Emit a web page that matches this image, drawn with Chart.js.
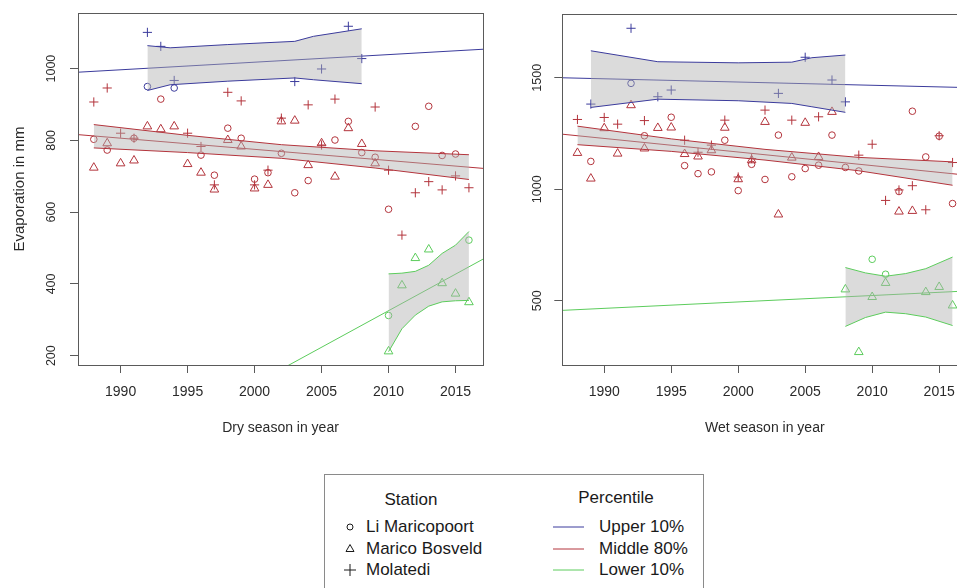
<!DOCTYPE html>
<html>
<head>
<meta charset="utf-8">
<script src="https://cdn.jsdelivr.net/npm/chart.js@4.4.1/dist/chart.umd.min.js"></script>
<style>
  html, body { margin: 0; padding: 0; width: 957px; height: 588px; overflow: hidden; background: #fff; }
  body { position: relative; font-family: "Liberation Sans", Arial, sans-serif; color: #1a1a1a; }
  #dry { position: absolute; left: 0; top: 0; }
  #wet { position: absolute; left: 490px; top: 0; }
  #legend { position: absolute; left: 324px; top: 474px; width: 378px; height: 140px; border: 1px solid #8a8a8a; }
  .lg { position: absolute; font-size: 17px; line-height: 20px; white-space: nowrap; }
  .sym { position: absolute; }
</style>
</head>
<body>
<canvas id="dry" width="500" height="460"></canvas>
<canvas id="wet" width="490" height="460"></canvas>
<div id="legend"></div>
<script>
// axis ticks
const yearTicks = [1990, 1995, 2000, 2005, 2010, 2015];
const dryTicks = [200, 400, 600, 800, 1000];
const wetTicks = [500, 1000, 1500];

// ---- dry season ----
// Li Maricopoort (circles)
const dryLiUpperYears = [1992, 1994];
const dryLiUpper = [950, 946];
const dryLiMidYears = [1988, 1989, 1991, 1993, 1996, 1997, 1998, 1999, 2000, 2001, 2002, 2003, 2004, 2006, 2007, 2008, 2009, 2010, 2012, 2013, 2014, 2015];
const dryLiMid = [803, 773, 806, 915, 759, 703, 834, 806, 692, 710, 764, 654, 688, 801, 853, 766, 753, 608, 839, 895, 758, 762];
const dryLiLowYears = [2010, 2016];
const dryLiLow = [312, 522];
// Marico Bosveld (triangles)
const dryMbMidYears = [1988, 1989, 1990, 1991, 1992, 1993, 1994, 1995, 1996, 1997, 1998, 1999, 2000, 2001, 2002, 2003, 2004, 2005, 2006, 2007, 2008, 2009];
const dryMbMid = [724, 792, 736, 744, 839, 831, 839, 734, 710, 663, 801, 783, 666, 676, 853, 855, 731, 792, 699, 834, 790, 736];
const dryMbLowYears = [2010, 2011, 2012, 2013, 2014, 2015, 2016];
const dryMbLow = [212, 396, 472, 496, 402, 373, 349];
// Molatedi (crosses)
const dryMoUpperYears = [1992, 1993, 1994, 2003, 2005, 2007, 2008];
const dryMoUpper = [1101, 1062, 967, 964, 999, 1118, 1028];
const dryMoMidYears = [1988, 1989, 1990, 1991, 1995, 1996, 1997, 1998, 1999, 2000, 2001, 2002, 2004, 2005, 2006, 2009, 2010, 2011, 2012, 2013, 2014, 2015, 2016];
const dryMoMid = [907, 946, 820, 806, 820, 783, 676, 934, 910, 676, 717, 862, 899, 787, 915, 893, 717, 536, 654, 685, 662, 701, 668];
// fitted lines (values at the plot borders) and confidence bands
const dryFitYears = [1986.82, 2017.05];
const dryFitUpper = [990, 1054];
const dryFitMid = [816, 722];
const dryFitLow = [-147, 469];
const dryBandUpperYears = [1992, 1993.7, 1998, 2003, 2004.4, 2008];
const dryBandUpperHi = [1064, 1058, 1067, 1076, 1090, 1111];
const dryBandUpperLo = [939, 955, 965, 974, 969, 958];
const dryBandMidYears = [1988, 1995, 2002, 2009, 2016];
const dryBandMidHi = [844, 814, 788, 771, 760];
const dryBandMidLo = [779, 766, 750, 723, 691];
const dryBandLowYears = [2010, 2011, 2012, 2013, 2014, 2015, 2016];
const dryBandLowHi = [428, 430, 435, 452, 485, 508, 546];
const dryBandLowLo = [211, 275, 313, 338, 350, 353, 354];

// ---- wet season ----
const wetLiUpperYears = [1992];
const wetLiUpper = [1475];
const wetLiMidYears = [1989, 1993, 1995, 1996, 1997, 1998, 1999, 2000, 2001, 2002, 2003, 2004, 2005, 2006, 2007, 2008, 2009, 2012, 2013, 2014, 2015, 2016];
const wetLiMid = [1125, 1240, 1323, 1106, 1070, 1078, 1220, 994, 1112, 1044, 1243, 1056, 1093, 1108, 1243, 1098, 1082, 990, 1350, 1145, 1238, 936];
const wetLiLowYears = [2010, 2011];
const wetLiLow = [686, 619];
const wetMbMidYears = [1988, 1989, 1990, 1991, 1992, 1993, 1994, 1995, 1996, 1997, 1998, 1999, 2000, 2001, 2002, 2003, 2004, 2005, 2006, 2007, 2012, 2013];
const wetMbMid = [1163, 1048, 1274, 1160, 1377, 1183, 1275, 1277, 1158, 1147, 1175, 1276, 1045, 1130, 1302, 887, 1142, 1298, 1145, 1347, 900, 903];
const wetMbLowYears = [2008, 2009, 2010, 2011, 2014, 2015, 2016];
const wetMbLow = [551, 270, 517, 580, 539, 562, 479];
const wetMoUpperYears = [1989, 1992, 1994, 1995, 2003, 2005, 2007, 2008];
const wetMoUpper = [1382, 1722, 1415, 1445, 1430, 1592, 1490, 1392];
const wetMoMidYears = [1988, 1990, 1991, 1993, 1996, 1997, 1998, 1999, 2000, 2001, 2002, 2004, 2006, 2009, 2010, 2011, 2012, 2013, 2014, 2015, 2016];
const wetMoMid = [1313, 1322, 1292, 1308, 1220, 1166, 1198, 1310, 1055, 1138, 1355, 1310, 1325, 1153, 1202, 950, 997, 1016, 908, 1240, 1120];
const wetFitYears = [1986.87, 2017.1];
const wetFitUpper = [1500, 1456];
const wetFitMid = [1247, 1063];
const wetFitLow = [457, 544];
const wetBandUpperYears = [1989, 1994, 2000, 2004, 2005.5, 2008];
const wetBandUpperHi = [1621, 1572, 1567, 1570, 1590, 1602];
const wetBandUpperLo = [1367, 1404, 1397, 1385, 1370, 1345];
const wetBandMidYears = [1988, 1995, 2002, 2009, 2016];
const wetBandMidHi = [1283, 1226, 1179, 1143, 1123];
const wetBandMidLo = [1200, 1170, 1131, 1083, 1018];
const wetBandLowYears = [2008, 2009.5, 2011, 2012.5, 2014, 2016];
const wetBandLowHi = [649, 625, 610, 622, 644, 696];
const wetBandLowLo = [385, 425, 449, 442, 427, 389];

// legend labels
const stationNames = ["Li Maricopoort", "Marico Bosveld", "Molatedi"];
const percentileNames = ["Upper 10%", "Middle 80%", "Lower 10%"];

// ---- styles ----
const blue = "#3b3b9c", red = "#b3343c", green = "#5ccc5c";
const bandFill = "rgba(175,175,175,0.45)";
const axisCol = "#5a5a5a", textCol = "#2a2a2a";
const fontFam = '"Liberation Sans", Arial, sans-serif';
const sizes = { circle: 3.3, triangle: 5, cross: 4.6 };

function pts(xs, ys) {
  return xs.map((x, i) => ({ x: x, y: ys[i] }));
}

function markers(xs, ys, style, color) {
  return {
    data: pts(xs, ys), showLine: false, pointStyle: style,
    pointRadius: sizes[style], pointBorderColor: color,
    pointBackgroundColor: "rgba(0,0,0,0)", pointBorderWidth: 1
  };
}

function line(xs, ys, color, fill) {
  return {
    data: pts(xs, ys), borderColor: color, borderWidth: 1, pointRadius: 0,
    tension: 0, fill: fill ? "-1" : false, backgroundColor: bandFill
  };
}

const boxPlugin = {
  id: "box",
  afterDraw(chart) {
    const a = chart.chartArea, ctx = chart.ctx;
    ctx.save();
    ctx.strokeStyle = axisCol;
    ctx.lineWidth = 1;
    ctx.strokeRect(Math.round(a.left) + 0.5, Math.round(a.top) + 0.5,
      Math.round(a.right - a.left), Math.round(a.bottom - a.top));
    ctx.restore();
  }
};

// plain numbers, no thousands separator
const plain = v => String(v);

function makePanel(id, cfg) {
  new Chart(document.getElementById(id), {
    type: "line",
    data: { datasets: cfg.datasets },
    plugins: [boxPlugin],
    options: {
      responsive: false,
      animation: false,
      events: [],
      layout: { padding: cfg.padding },
      plugins: { legend: { display: false }, tooltip: { enabled: false } },
      scales: {
        x: {
          type: "linear", min: cfg.xMin, max: cfg.xMax,
          afterBuildTicks: s => { s.ticks = yearTicks.map(v => ({ value: v })); },
          afterFit: s => { s.height = 71.4; },
          grid: { drawOnChartArea: false, drawTicks: true, tickLength: 8, color: axisCol },
          border: { display: false },
          ticks: { autoSkip: false, maxRotation: 0, minRotation: 0, padding: 10.6, callback: plain,
            color: textCol, font: { family: fontFam, size: 14 } },
          title: { display: true, text: cfg.xTitle, color: textCol, padding: 0,
            font: { family: fontFam, size: 14 } }
        },
        y: {
          type: "linear", min: cfg.yMin, max: cfg.yMax,
          afterBuildTicks: s => { s.ticks = cfg.yTicks.map(v => ({ value: v })); },
          afterFit: s => { s.width = cfg.yWidth; },
          grid: { drawOnChartArea: false, drawTicks: true, tickLength: 8, color: axisCol },
          border: { display: false },
          ticks: { minRotation: 90, maxRotation: 90, crossAlign: "center", padding: cfg.yPad,
            callback: plain, color: textCol, font: { family: fontFam, size: 12.5 } },
          title: { display: !!cfg.yTitle, text: cfg.yTitle, color: textCol,
            padding: { top: 10.5, bottom: 0 }, font: { family: fontFam, size: 15 } }
        }
      }
    }
  });
}

makePanel("dry", {
  xMin: 1986.82, xMax: 2017.05, yMin: 174, yMax: 1155, yTicks: dryTicks,
  yWidth: 78, yPad: 4.4, padding: { left: 0, top: 13, right: 17, bottom: 460 - 365 - 71.4 },
  xTitle: "Dry season in year", yTitle: "Evaporation in mm",
  datasets: [
    line(dryBandUpperYears, dryBandUpperLo, blue, false),
    line(dryBandUpperYears, dryBandUpperHi, blue, true),
    line(dryBandMidYears, dryBandMidLo, red, false),
    line(dryBandMidYears, dryBandMidHi, red, true),
    line(dryBandLowYears, dryBandLowLo, green, false),
    line(dryBandLowYears, dryBandLowHi, green, true),
    line(dryFitYears, dryFitUpper, blue, false),
    line(dryFitYears, dryFitMid, red, false),
    line(dryFitYears, dryFitLow, green, false),
    markers(dryLiUpperYears, dryLiUpper, "circle", blue),
    markers(dryLiMidYears, dryLiMid, "circle", red),
    markers(dryLiLowYears, dryLiLow, "circle", green),
    markers(dryMbMidYears, dryMbMid, "triangle", red),
    markers(dryMbLowYears, dryMbLow, "triangle", green),
    markers(dryMoUpperYears, dryMoUpper, "cross", blue),
    markers(dryMoMidYears, dryMoMid, "cross", red)
  ]
});

makePanel("wet", {
  xMin: 1986.87, xMax: 2017.1, yMin: 212, yMax: 1786, yTicks: wetTicks,
  yWidth: 72.3, yPad: 3.3, padding: { left: 0, top: 14, right: 12.7, bottom: 460 - 365 - 71.4 },
  xTitle: "Wet season in year", yTitle: "",
  datasets: [
    line(wetBandUpperYears, wetBandUpperLo, blue, false),
    line(wetBandUpperYears, wetBandUpperHi, blue, true),
    line(wetBandMidYears, wetBandMidLo, red, false),
    line(wetBandMidYears, wetBandMidHi, red, true),
    line(wetBandLowYears, wetBandLowLo, green, false),
    line(wetBandLowYears, wetBandLowHi, green, true),
    line(wetFitYears, wetFitUpper, blue, false),
    line(wetFitYears, wetFitMid, red, false),
    line(wetFitYears, wetFitLow, green, false),
    markers(wetLiUpperYears, wetLiUpper, "circle", blue),
    markers(wetLiMidYears, wetLiMid, "circle", red),
    markers(wetLiLowYears, wetLiLow, "circle", green),
    markers(wetMbMidYears, wetMbMid, "triangle", red),
    markers(wetMbLowYears, wetMbLow, "triangle", green),
    markers(wetMoUpperYears, wetMoUpper, "cross", blue),
    markers(wetMoMidYears, wetMoMid, "cross", red)
  ]
});

// ---- legend (positions relative to the legend box) ----
const lg = document.getElementById("legend");
function addText(txt, x, y, center) {
  const d = document.createElement("div");
  d.className = "lg";
  d.textContent = txt;
  d.style.top = (y - 10) + "px";
  if (center) { d.style.left = (x - 100) + "px"; d.style.width = "200px"; d.style.textAlign = "center"; }
  else d.style.left = x + "px";
  lg.appendChild(d);
}
const ns = "http://www.w3.org/2000/svg";
function addSvg(inner, x, y, w, h) {
  const s = document.createElementNS(ns, "svg");
  s.setAttribute("class", "sym");
  s.setAttribute("width", w); s.setAttribute("height", h);
  s.style.left = (x - w / 2) + "px"; s.style.top = (y - h / 2) + "px";
  s.innerHTML = inner;
  lg.appendChild(s);
}
const rowY = [52, 74, 95];
const symbols = [
  '<circle cx="8" cy="8" r="3" fill="none" stroke="#1a1a1a" stroke-width="1"/>',
  '<path d="M8 3.5 L12 10.5 L4 10.5 Z" fill="none" stroke="#1a1a1a" stroke-width="1"/>',
  '<path d="M8 2 V14 M2 8 H14" stroke="#1a1a1a" stroke-width="1"/>'
];
const lineCols = [blue, red, green];
addText("Station", 86, 25, true);
addText("Percentile", 291, 23, true);
stationNames.forEach((n, i) => {
  addSvg(symbols[i], 25, rowY[i], 16, 16);
  addText(n, 41, rowY[i], false);
});
percentileNames.forEach((n, i) => {
  addSvg('<line x1="0" y1="2" x2="31" y2="2" stroke="' + lineCols[i] + '" stroke-width="1"/>', 243.5, rowY[i], 31, 4);
  addText(n, 274, rowY[i], false);
});
</script>
</body>
</html>
